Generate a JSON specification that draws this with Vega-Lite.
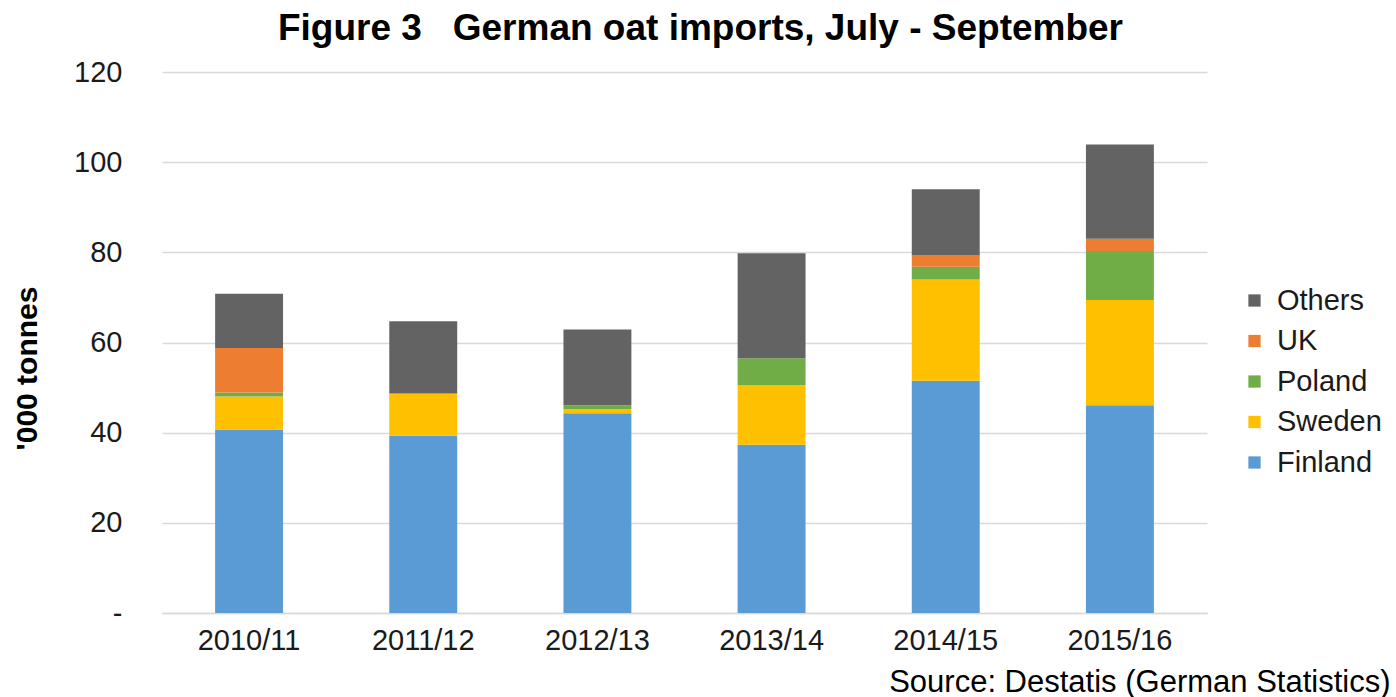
{
  "$schema": "https://vega.github.io/schema/vega-lite/v6.json",
  "width": 1045,
  "height": 541,
  "autosize": {"type": "none"},
  "padding": {"left": 162, "top": 72, "right": 189, "bottom": 84},
  "background": "white",
  "config": {
    "font": "Liberation Sans",
    "view": {"stroke": null}
  },
  "title": {
    "text": "Figure 3\u00a0\u00a0\u00a0German oat imports, July - September",
    "font": "Liberation Sans",
    "fontSize": 37,
    "fontWeight": "bold",
    "color": "#000000",
    "anchor": "middle",
    "frame": "group",
    "dx": 16,
    "dy": -6
  },
  "data": {
    "values": [
      {"season": "2010/11", "country": "Finland", "rank": 1, "tonnes": 40.7},
      {"season": "2010/11", "country": "Sweden", "rank": 2, "tonnes": 7.3},
      {"season": "2010/11", "country": "Poland", "rank": 3, "tonnes": 0.9},
      {"season": "2010/11", "country": "UK", "rank": 4, "tonnes": 9.9},
      {"season": "2010/11", "country": "Others", "rank": 5, "tonnes": 12.0},
      {"season": "2011/12", "country": "Finland", "rank": 1, "tonnes": 39.3},
      {"season": "2011/12", "country": "Sweden", "rank": 2, "tonnes": 9.4},
      {"season": "2011/12", "country": "Poland", "rank": 3, "tonnes": 0},
      {"season": "2011/12", "country": "UK", "rank": 4, "tonnes": 0},
      {"season": "2011/12", "country": "Others", "rank": 5, "tonnes": 16.0},
      {"season": "2012/13", "country": "Finland", "rank": 1, "tonnes": 44.3},
      {"season": "2012/13", "country": "Sweden", "rank": 2, "tonnes": 0.9},
      {"season": "2012/13", "country": "Poland", "rank": 3, "tonnes": 0.9},
      {"season": "2012/13", "country": "UK", "rank": 4, "tonnes": 0},
      {"season": "2012/13", "country": "Others", "rank": 5, "tonnes": 16.8},
      {"season": "2013/14", "country": "Finland", "rank": 1, "tonnes": 37.3},
      {"season": "2013/14", "country": "Sweden", "rank": 2, "tonnes": 13.3},
      {"season": "2013/14", "country": "Poland", "rank": 3, "tonnes": 5.9},
      {"season": "2013/14", "country": "UK", "rank": 4, "tonnes": 0},
      {"season": "2013/14", "country": "Others", "rank": 5, "tonnes": 23.3},
      {"season": "2014/15", "country": "Finland", "rank": 1, "tonnes": 51.5},
      {"season": "2014/15", "country": "Sweden", "rank": 2, "tonnes": 22.5},
      {"season": "2014/15", "country": "Poland", "rank": 3, "tonnes": 2.8},
      {"season": "2014/15", "country": "UK", "rank": 4, "tonnes": 2.6},
      {"season": "2014/15", "country": "Others", "rank": 5, "tonnes": 14.6},
      {"season": "2015/16", "country": "Finland", "rank": 1, "tonnes": 46.1},
      {"season": "2015/16", "country": "Sweden", "rank": 2, "tonnes": 23.3},
      {"season": "2015/16", "country": "Poland", "rank": 3, "tonnes": 10.9},
      {"season": "2015/16", "country": "UK", "rank": 4, "tonnes": 2.7},
      {"season": "2015/16", "country": "Others", "rank": 5, "tonnes": 20.9}
    ]
  },
  "mark": {"type": "bar"},
  "encoding": {
    "x": {
      "field": "season",
      "type": "nominal",
      "sort": null,
      "scale": {"paddingInner": 0.61, "paddingOuter": 0.305},
      "axis": {
        "title": "Source: Destatis (German Statistics)",
        "titleFont": "Liberation Sans",
        "titleFontSize": 31,
        "titleFontWeight": "normal",
        "titleColor": "#000000",
        "titleAlign": "right",
        "titleAnchor": null,
        "titleBaseline": "middle",
        "titleX": 1228,
        "titleY": 69,
        "labelAngle": 0,
        "labelFontSize": 29,
        "labelColor": "#1a1a1a",
        "labelPadding": 13,
        "ticks": false,
        "domain": true,
        "domainColor": "#d9d9d9",
        "domainWidth": 1.5,
        "grid": false
      }
    },
    "y": {
      "field": "tonnes",
      "type": "quantitative",
      "stack": "zero",
      "scale": {"domain": [0, 120], "nice": false},
      "axis": {
        "title": "'000 tonnes",
        "titleFont": "Liberation Sans",
        "titleFontSize": 30,
        "titleFontWeight": "bold",
        "titleColor": "#000000",
        "titleAngle": -90,
        "titleAlign": "center",
        "titleBaseline": "middle",
        "titleX": -135,
        "titleY": 296,
        "values": [0, 20, 40, 60, 80, 100, 120],
        "labelExpr": "datum.value == 0 ? '-' : datum.label",
        "labelFontSize": 29,
        "labelColor": "#1a1a1a",
        "labelPadding": 40,
        "ticks": false,
        "domain": false,
        "grid": true,
        "gridColor": "#d9d9d9",
        "gridWidth": 1.5
      }
    },
    "color": {
      "field": "country",
      "type": "nominal",
      "scale": {
        "domain": ["Others", "UK", "Poland", "Sweden", "Finland"],
        "range": ["#636363", "#ED7D31", "#70AD47", "#FFC000", "#5B9BD5"]
      },
      "legend": {
        "title": null,
        "orient": "none",
        "legendX": 1078,
        "legendY": 214,
        "symbolType": "square",
        "symbolSize": 150,
        "symbolStrokeWidth": 0,
        "labelFontSize": 29,
        "labelColor": "#1a1a1a",
        "labelOffset": 8,
        "rowPadding": 10.5
      }
    },
    "order": {"field": "rank", "type": "quantitative", "sort": "ascending"}
  }
}
